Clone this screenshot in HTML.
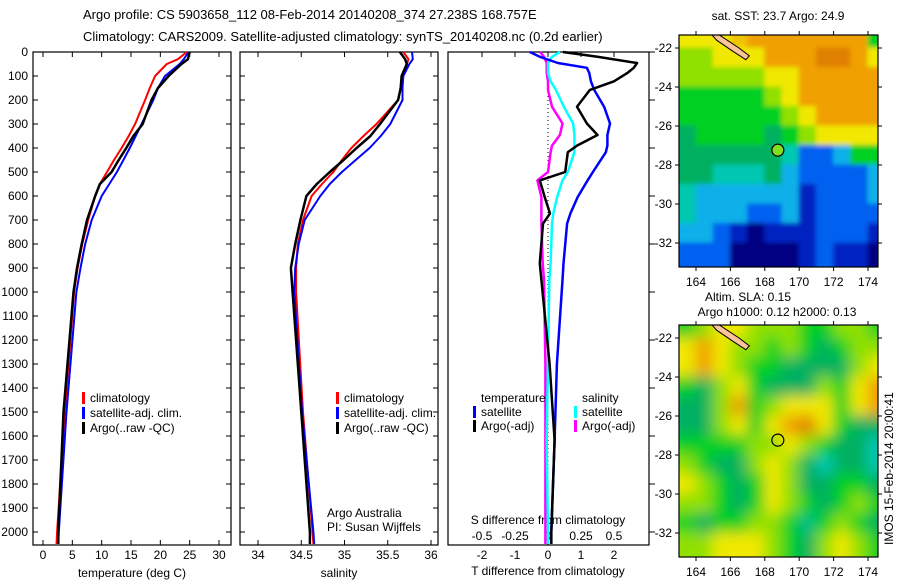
<!DOCTYPE html>
<html><head><meta charset="utf-8"><style>
body{margin:0;background:#fff;}
svg{display:block;font-family:"Liberation Sans",sans-serif;}
text{font-size:12px;fill:#000;}
</style></head><body>
<svg id="chart" width="900" height="580" viewBox="0 0 900 580">
<defs>
<clipPath id="c1"><rect x="679" y="35" width="199" height="232"/></clipPath>
<clipPath id="c2"><rect x="679" y="325" width="199" height="232"/></clipPath>
<filter id="blur" x="-10%" y="-10%" width="120%" height="120%"><feGaussianBlur stdDeviation="7"/></filter>
<filter id="blur1" x="-10%" y="-10%" width="120%" height="120%"><feGaussianBlur stdDeviation="2.5"/></filter>
</defs>
<text x="83" y="19" style="font-size:13px">Argo profile: CS 5903658_112 08-Feb-2014 20140208_374 27.238S 168.757E</text>
<text x="83" y="41" style="font-size:13px">Climatology: CARS2009. Satellite-adjusted climatology: synTS_20140208.nc (0.2d earlier)</text>
<g id="g"></g>
</svg>
<script>
// ---- data ----
const depths=[0,30,50,100,150,200,300,350,400,450,500,550,600,700,800,900,1000,1500,2000,2050];
const tempClim=[24.5,23.0,21.1,19.1,18.2,17.4,15.7,14.6,13.4,12.1,10.9,9.7,8.9,7.7,6.7,5.9,5.3,3.7,2.4,2.3];
const tempSat=[24.8,24.0,23.3,20.8,19.6,18.8,16.8,15.8,14.8,13.7,12.6,11.3,10.0,8.3,7.2,6.4,5.7,4.0,2.7,2.6];
const tempArgo=[25.0,24.7,23.6,21.4,19.6,18.5,17.0,15.4,14.2,12.9,11.7,9.7,8.9,7.5,6.6,5.8,5.2,3.5,2.6,2.6];
const salClim=[35.68,35.74,35.72,35.67,35.65,35.62,35.37,35.22,35.08,34.97,34.87,34.74,34.62,34.52,34.46,34.44,34.44,34.52,34.63,34.64];
const salSat=[35.78,35.79,35.75,35.68,35.67,35.67,35.53,35.42,35.29,35.13,34.97,34.83,34.72,34.54,34.47,34.43,34.42,34.51,34.64,34.65];
const salArgo=[35.64,35.70,35.72,35.66,35.65,35.62,35.41,35.30,35.14,34.99,34.83,34.68,34.56,34.49,34.43,34.38,34.40,34.50,34.60,34.60];
const diffDepths=[0,20,46,66,88,122,158,228,298,346,390,418,500,535,604,673,715,881,950,1300,1617,2000,2050];
const dTsat=[-0.55,-0.25,0.3,1.18,1.25,1.3,1.4,1.7,1.88,1.8,1.8,1.75,1.36,1.2,0.9,0.68,0.58,0.47,0.44,0.27,0.2,0.1,0.1];
const dTargo=[0.45,1.5,2.7,2.6,2.4,2.0,1.27,0.88,1.18,1.5,0.88,0.6,0.52,-0.25,-0.1,0.06,-0.15,-0.25,-0.2,0.05,0.2,0.1,0.1];
const dSsat=[0.09,0.03,0.0,0.0,0.0,0.02,0.06,0.12,0.19,0.2,0.2,0.2,0.15,0.11,0.07,0.04,0.03,0.02,0.01,0.0,-0.01,0.0,0.0];
const dSargo=[-0.06,-0.03,-0.01,-0.01,-0.01,0.0,0.0,0.03,0.11,0.09,0.03,0.02,0.0,-0.08,-0.05,-0.05,-0.05,-0.04,-0.03,-0.02,-0.02,-0.02,-0.02];
const depthTicks=[0,100,200,300,400,500,600,700,800,900,1000,1100,1200,1300,1400,1500,1600,1700,1800,1900,2000];
const tempTicks=[0,5,10,15,20,25,30];
const salTicks=[34,34.5,35,35.5,36];
const salTickLabels=["34","34.5","35","35.5","36"];
const dTTicks=[-2,-1,0,1,2];
const dSTicks=[-0.5,-0.25,0,0.25,0.5];
const lonTicks=[164,166,168,170,172,174];
const latTicks=[-22,-24,-26,-28,-30,-32];
const argoLon=168.757, argoLat=-27.238;
const sstGrid=[
[8,8,8,8.5,9,9,9,9,9,9,9,6],
[7,7,8,8,8,9,9,9,9.5,9.5,9,8],
[7,7,7,7,7,8,8,9,9,9,9,9],
[6,6,6,6,6,7,8,9,9,9,9,9],
[6,6,6,6,6,6,7,8,9,9,9,9],
[5,6,6,6,6,5,6,7,8,8,8,8],
[5,5,5,5,5,5,4,2,2,3,6,6],
[5,5,4,4,4,5,3,2,2,2,2,3],
[4,3,3,3,3,3,3,1,2,2,2,3],
[4,3,3,3,2,2,3,1,2,2,2,2],
[3,3,2,1,0,1,1,1,2,2,2,1],
[2,2,2,0,0,0,0,1,2,1,1,0]];
const slaGrid=[
[6,7,8,8,7,7,7,6,6,7,7,6],
[8,9,8,7,7,6,7,6,5,6,7,7],
[8,9,8,7,6,6,5,5,5,5,7,8],
[6,5,7,8,6,5,5,5,7,6,8,9],
[5,5,7,9,6,7,8,8,8,6,8,9],
[5,5,7,8,6,8,9,9.5,8,6,5,5],
[6,6,6,6,7,7,8,7,6,5,5,4],
[7,6,5,5,7,8,7,5,4,5,5,4],
[8,7,6,5,6,8,7,5,5,6,6,5],
[7,7,6,5,6,8,7,6,5,6,7,6],
[6,5,6,6,7,7,6,4.5,6,7,6,5],
[7,7,8,8,8,7,6,5,7,8,7,6]];
// ---- scales ----
const Y=d=>52+0.24*d;
const XT=t=>43+5.867*t;
const XS=s=>258+86.5*(s-34);
const XDT=t=>548+33*t;
const XDS=s=>548+132*s;
const LON=l=>696+17.2*(l-164);
const LAT1=a=>48+19.5*(-22-a);
const LAT2=a=>338+19.5*(-22-a);
const NS='http://www.w3.org/2000/svg';
const G=document.getElementById('g');
function mk(tag,at,parent){const e=document.createElementNS(NS,tag);for(const k in at)e.setAttribute(k,at[k]);(parent||G).appendChild(e);return e;}
function txt(x,y,s,anchor,extra){const e=mk('text',Object.assign({x:x,y:y,'text-anchor':anchor||'start'},extra||{}));e.textContent=s;return e;}

function panel(x0,x1,name){
  const r=mk('rect',{x:x0,y:52,width:x1-x0,height:493,fill:'none',stroke:'#000','stroke-width':1.2});
  
  
  depthTicks.forEach(d=>{mk('line',{x1:x0,x2:x0+5,y1:Y(d),y2:Y(d),stroke:'#000'});mk('line',{x1:x1,x2:x1-5,y1:Y(d),y2:Y(d),stroke:'#000'});});
}
panel(33,231,'temperature-panel');
panel(240,438,'salinity-panel');
const r3=mk('rect',{x:448,y:52,width:201,height:493,fill:'none',stroke:'#000','stroke-width':1.2});


depthTicks.forEach((d,i)=>{
  const t=txt(28,Y(d)+4,String(d),'end');
  
  
  if(i%2==0) mk('line',{x1:649,x2:655,y1:Y(d),y2:Y(d),stroke:'#000'});
});
tempTicks.forEach(v=>{mk('line',{x1:XT(v),x2:XT(v),y1:52,y2:57,stroke:'#000'});mk('line',{x1:XT(v),x2:XT(v),y1:545,y2:540,stroke:'#000'});
  const t=txt(XT(v),559,String(v),'middle');});
salTicks.forEach((v,i)=>{mk('line',{x1:XS(v),x2:XS(v),y1:52,y2:57,stroke:'#000'});mk('line',{x1:XS(v),x2:XS(v),y1:545,y2:540,stroke:'#000'});
  const t=txt(XS(v),559,salTickLabels[i],'middle');});
dTTicks.forEach(v=>{mk('line',{x1:XDT(v),x2:XDT(v),y1:52,y2:57,stroke:'#000'});
  const t=txt(XDT(v),559,String(v),'middle');});
dSTicks.forEach(v=>{const t=txt(XDS(v),540,String(v),'middle');});
let e;
e=txt(132,577,'temperature (deg C)','middle');
e=txt(339,577,'salinity','middle');
e=txt(548,575,'T difference from climatology','middle');
e=txt(548,524,'S difference from climatology','middle');
e=txt(327,517,'Argo Australia');
e=txt(327,531,'PI: Susan Wijffels');
// zero line
e=mk('line',{x1:548,x2:548,y1:52,y2:545,stroke:'#000','stroke-dasharray':'1,3'});


function series(xs,ys,X,col,w,name){
  const pts=xs.map((v,i)=>X(v).toFixed(1)+','+Y(ys[i]).toFixed(1)).join(' ');
  const p=mk('polyline',{points:pts,fill:'none',stroke:col,'stroke-width':w,'stroke-linejoin':'round'});
  
  
}
series(tempClim,depths,XT,'#f00',2,'temperature-climatology-line');
series(tempSat,depths,XT,'#00f',2,'temperature-satellite-line');
series(tempArgo,depths,XT,'#000',2.5,'temperature-argo-line');
series(salClim,depths,XS,'#f00',2,'salinity-climatology-line');
series(salSat,depths,XS,'#00f',2,'salinity-satellite-line');
series(salArgo,depths,XS,'#000',2.5,'salinity-argo-line');
series(dSargo,diffDepths,XDS,'#f0f',2.5,'s-diff-argo-line');
series(dSsat,diffDepths,XDS,'#0ff',2.5,'s-diff-satellite-line');
series(dTsat,diffDepths,XDT,'#00f',2.5,'t-diff-satellite-line');
series(dTargo,diffDepths,XDT,'#000',2.5,'t-diff-argo-line');

function legend(x,y,col,label){
  mk('rect',{x:x,y:y-10,width:3,height:12,fill:col});
  const t=txt(x+8,y,label);
  
  
}
legend(82,402,'#f00','climatology');legend(82,417,'#00f','satellite-adj. clim.');legend(82,432,'#000','Argo(..raw -QC)');
legend(336,402,'#f00','climatology');legend(336,417,'#00f','satellite-adj. clim.');legend(336,432,'#000','Argo(..raw -QC)');
e=txt(481,402,'temperature');
e=txt(582,402,'salinity');
legend(473,416,'#00f','satellite');legend(473,430,'#000','Argo(-adj)');
legend(574,416,'#0ff','satellite');legend(574,430,'#f0f','Argo(-adj)');

// ---- maps ----
const pal=[[0,0,128],[0,32,192],[0,96,240],[16,176,232],[0,200,176],[0,176,96],[0,208,32],[144,224,0],[240,232,0],[240,160,0],[208,96,0]];
function col(v){const i=Math.max(0,Math.min(9,Math.floor(v)));const f=Math.min(1,v-i);const a=pal[i],b=pal[i+1];
  return 'rgb('+a.map((c,k)=>Math.round(c+(b[k]-c)*f)).join(',')+')';}
function map(grid,LAT,top,clip,filt,name){
  const grp=mk('g',{'clip-path':'url(#'+clip+')'});
  const inner=mk('g',{filter:'url(#'+filt+')'},grp);
  grid.forEach((row,r)=>row.forEach((v,c)=>{
    const lon=163+c, lat=-21+(-r);
    const x=LON(lon),y=LAT(lat);
    const cell=mk('rect',{x:x-0.5-(c==0?10:0),y:y-0.5-(r==0?10:0),width:17.2*(c==11?2:1)+1+(c==0?10:0),height:19.5*(r==11?2:1)+1+(r==0?10:0),fill:col(v)},inner);
    
    
  }));
  mk('polygon',{points:[[164.8,-21.2],[165.3,-21.3],[166.5,-22.0],[167.1,-22.4],[166.9,-22.6],[166.2,-22.2],[165.2,-21.6]].map(p=>LON(p[0])+','+LAT(p[1])).join(' '),fill:'#fbc39a',stroke:'#000','stroke-width':1},grp);
  const rc=mk('rect',{x:679,y:top,width:199,height:232,fill:'none',stroke:'#000','stroke-width':1.2});
  
  
  const ci=mk('circle',{cx:LON(argoLon),cy:LAT(argoLat),r:6,fill:filt=='blur'?'none':'#80e020',stroke:'#000','stroke-width':1.2});
  
  
  lonTicks.forEach(l=>{mk('line',{x1:LON(l),x2:LON(l),y1:top,y2:top-4,stroke:'#000'});mk('line',{x1:LON(l),x2:LON(l),y1:top+232,y2:top+236,stroke:'#000'});
    const t=txt(LON(l),top+251,String(l),'middle');});
  latTicks.forEach(a=>{mk('line',{x1:679,x2:675,y1:LAT(a),y2:LAT(a),stroke:'#000'});mk('line',{x1:878,x2:882,y1:LAT(a),y2:LAT(a),stroke:'#000'});
    const t=txt(672,LAT(a)+4,String(a),'end');});
}
map(sstGrid,LAT1,35,'c1','blur1','sst-map');
map(slaGrid,LAT2,325,'c2','blur','sla-map');
e=txt(778,20,'sat. SST: 23.7 Argo: 24.9','middle');
e=txt(748,301,'Altim. SLA: 0.15','middle');
e=txt(777,316,'Argo h1000: 0.12 h2000: 0.13','middle');
e=txt(0,0,'IMOS 15-Feb-2014 20:00:41','start',{transform:'translate(893,545) rotate(-90)'});

</script>
</body></html>
